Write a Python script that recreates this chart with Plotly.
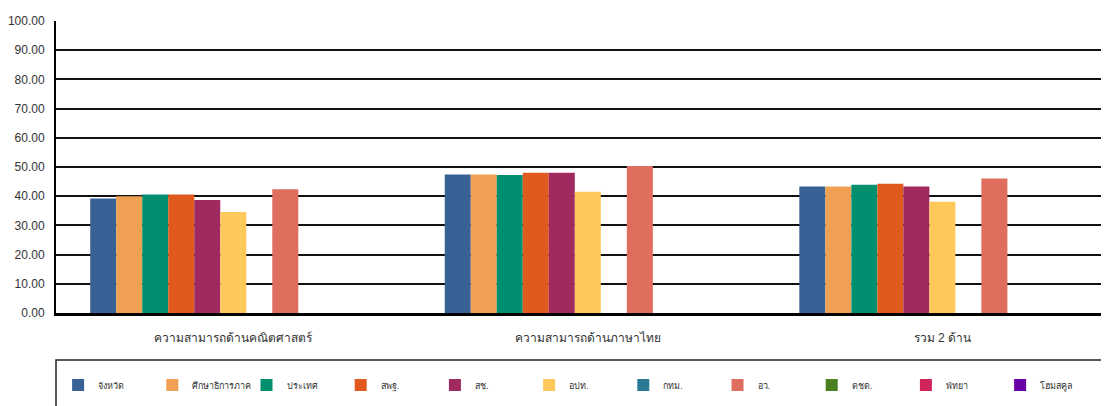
import plotly.graph_objects as go

categories = ["ความสามารถด้านคณิตศาสตร์", "ความสามารถด้านภาษาไทย", "รวม 2 ด้าน"]

series_names = ["จังหวัด", "ศึกษาธิการภาค", "ประเทศ", "สพฐ.", "สช.", "อปท.",
                "กทม.", "อว.", "ตชด.", "พัทยา", "โฮมสคูล"]

jangwat = [39.2, 47.4, 43.3]
suksa_phak = [40.0, 47.4, 43.3]
prathet = [40.6, 47.3, 43.9]
spt = [40.6, 48.0, 44.3]
sch = [38.7, 48.0, 43.3]
opt = [34.6, 41.5, 38.1]
ktm = [None, None, None]
aw = [42.4, 50.3, 46.1]
tchd = [None, None, None]
pattaya = [None, None, None]
homeschool = [None, None, None]

series_values = [jangwat, suksa_phak, prathet, spt, sch, opt,
                 ktm, aw, tchd, pattaya, homeschool]

colors = ["#386196", "#F0A052", "#009070", "#E05A1E", "#A0295F", "#FFC85A",
          "#2A7A96", "#DF6E5E", "#4A8020", "#D0245A", "#6A00A8"]

y_ticks = [0, 10, 20, 30, 40, 50, 60, 70, 80, 90, 100]

FONT = "Liberation Sans, Arial, sans-serif"

fig = go.Figure()
for name, vals, col in zip(series_names, series_values, colors):
    fig.add_trace(go.Bar(
        name=name, x=categories, y=vals, marker=dict(color=col, line=dict(width=0)),
        showlegend=True,
    ))

fig.update_layout(
    width=1109, height=406,
    margin=dict(l=48, r=8, t=13, b=101, autoexpand=False),
    paper_bgcolor="white", plot_bgcolor="white",
    barmode="group", bargap=0.193, bargroupgap=0,
    font=dict(family=FONT, color="#333333", size=12),
    xaxis=dict(
        range=[-0.5, 2.47], showline=True, linecolor="black", linewidth=3,
        showgrid=False, ticks="", tickfont=dict(size=12, color="#333333"),
        ticklabelstandoff=12, fixedrange=True, automargin=False,
    ),
    yaxis=dict(
        range=[0, 100], tickvals=y_ticks, tickformat=".2f",
        showgrid=True, gridcolor="#111111", gridwidth=1.6,
        showline=True, linecolor="black", linewidth=2,
        zeroline=False, ticks="", ticklabelstandoff=7, automargin=False,
        tickfont=dict(size=12, color="#333333"),
    ),
    legend=dict(
        orientation="h", x=0.002, xanchor="left", y=-0.247, yanchor="middle",
        entrywidth=49.2, entrywidthmode="pixels",
        font=dict(size=9, color="#333333", family=FONT),
        bgcolor="rgba(0,0,0,0)", borderwidth=0, itemwidth=30,
    ),
    shapes=[dict(
        type="rect", xref="paper", yref="paper",
        x0=0, x1=1.05, y0=-0.161, y1=-0.5,
        line=dict(color="#222222", width=1.5), fillcolor="rgba(0,0,0,0)",
        layer="below",
    )],
)

fig.write_html("out.html")
